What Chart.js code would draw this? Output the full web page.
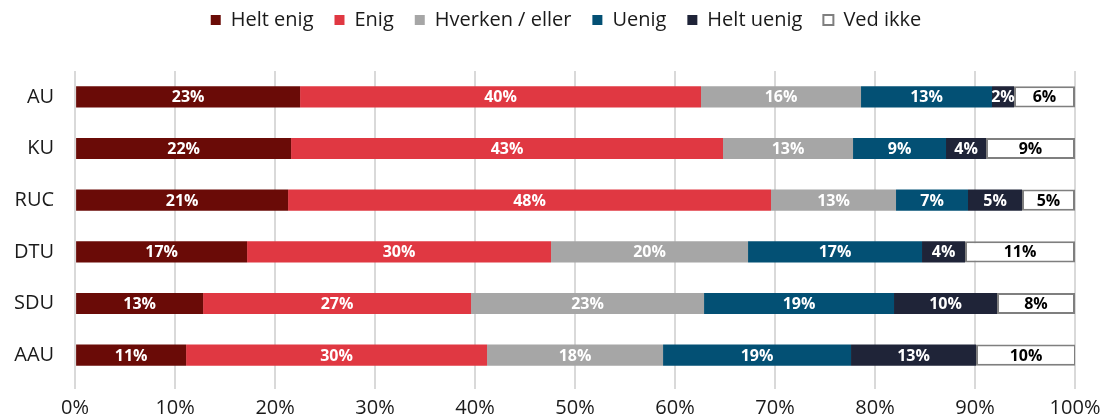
<!DOCTYPE html>
<html>
<head>
<meta charset="utf-8">
<script src="https://cdn.jsdelivr.net/npm/chart.js@4/dist/chart.umd.min.js"></script>
<style>
  html, body { margin: 0; padding: 0; background: #fff; }
  #wrap { width: 1105px; height: 419px; position: relative; }
</style>
</head>
<body>
<div id="wrap"><canvas id="chart"></canvas></div>
<script>
// categories (universities) and answer options
const universities = ['AU', 'KU', 'RUC', 'DTU', 'SDU', 'AAU'];
const answers = ['Helt enig', 'Enig', 'Hverken / eller', 'Uenig', 'Helt uenig', 'Ved ikke'];

// shares in percent
const heltEnig  = [22.5, 21.6, 21.3, 17.2, 12.8, 11.1];
const enig      = [40.1, 43.2, 48.3, 30.4, 26.8, 30.1];
const hverken   = [16.0, 13.0, 12.5, 19.7, 23.3, 17.6];
const uenig     = [13.1,  9.3,  7.2, 17.4, 19.0, 18.8];
const heltUenig = [ 2.2,  4.0,  5.4,  4.3, 10.3, 12.5];
const vedIkke   = [ 6.1,  8.9,  5.3, 11.0,  7.8, 10.0];

const xTicks = [0, 10, 20, 30, 40, 50, 60, 70, 80, 90, 100];

const FONT = '"Open Sans", "Liberation Sans", sans-serif';
const series = [heltEnig, enig, hverken, uenig, heltUenig, vedIkke];
const colors = ['#6a0b07', '#e03842', '#a6a6a6', '#035074', '#1f2438', '#ffffff'];

// draws the rounded % value in the middle of every segment
const segmentLabels = {
    id: 'segmentLabels',
    afterDatasetsDraw(chart) {
        const ctx = chart.ctx;
        ctx.save();
        ctx.font = 'bold 16px ' + FONT;
        ctx.textAlign = 'center';
        ctx.textBaseline = 'middle';
        chart.data.datasets.forEach((ds, i) => {
            const meta = chart.getDatasetMeta(i);
            meta.data.forEach((bar, j) => {
                const v = ds.data[j];
                const cx = (bar.x + bar.base) / 2;
                ctx.fillStyle = i === 5 ? '#000' : '#fff';
                ctx.fillText(Math.round(v) + '%', cx, bar.y + 1);
            });
        });
        ctx.restore();
    }
};

// extra room between legend and plot, and legend nudged right
const legendGap = {
    id: 'legendGap',
    beforeInit(chart) {
        const fit = chart.legend.fit;
        chart.legend.fit = function () {
            fit.bind(chart.legend)();
            this.height += 31;
        };
    },
    afterLayout(chart) {
        chart.legend.left += 13;
        chart.legend.right += 13;
    }
};

new Chart(document.getElementById('chart'), {
    type: 'bar',
    data: {
        labels: universities,
        datasets: answers.map((name, i) => ({
            label: name,
            data: series[i],
            backgroundColor: colors[i],
            borderColor: i === 5 ? '#7f7f7f' : colors[i],
            borderWidth: i === 5 ? 2 : 0,
            borderSkipped: false,
            categoryPercentage: 1,
            barPercentage: 0.41
        }))
    },
    options: {
        indexAxis: 'y',
        responsive: true,
        maintainAspectRatio: false,
        animation: false,
        layout: { padding: { left: 1, right: 0, top: -11, bottom: -8 } },
        scales: {
            x: {
                stacked: true,
                min: 0,
                max: 100,
                afterBuildTicks: axis => { axis.ticks = xTicks.map(v => ({ value: v })); },
                afterFit: axis => { axis.paddingRight = 30; },
                ticks: {
                    callback: v => v + '%',
                    font: { family: FONT, size: 20 },
                    color: '#1a1a1a',
                    padding: 7
                },
                grid: { color: '#d9d9d9', lineWidth: 2, tickLength: 8 },
                border: { display: false }
            },
            y: {
                stacked: true,
                ticks: {
                    font: { family: FONT, size: 20 },
                    color: '#1a1a1a',
                    padding: 13
                },
                grid: { display: false },
                border: { display: false }
            }
        },
        plugins: {
            legend: {
                position: 'top',
                align: 'center',
                labels: {
                    font: { family: FONT, size: 20 },
                    color: '#1a1a1a',
                    boxWidth: 10,
                    boxHeight: 10,
                    padding: 21
                }
            },
            tooltip: { enabled: false }
        }
    },
    plugins: [segmentLabels, legendGap]
});
</script>
</body>
</html>
